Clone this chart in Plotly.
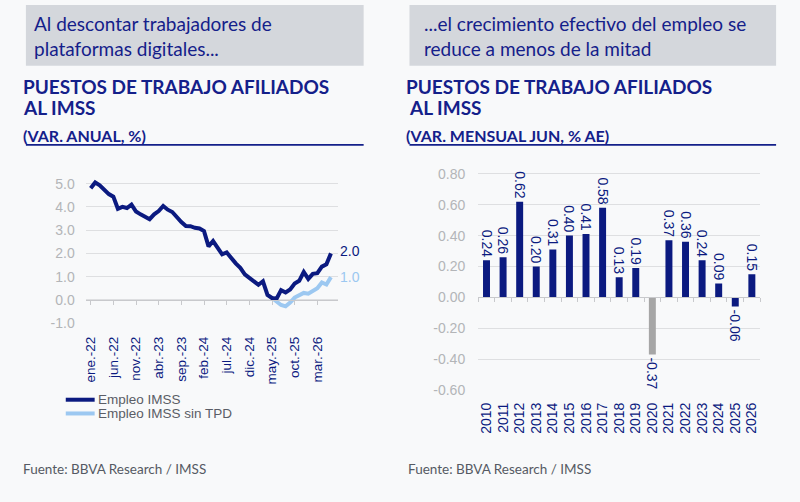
import plotly.graph_objects as go

# ---------------- data ----------------
MESES = ["ene.", "feb.", "mar.", "abr.", "may.", "jun.", "jul.", "ago.", "sep.", "oct.", "nov.", "dic."]
months = [f"{MESES[i % 12]}-{22 + i // 12}" for i in range(54)]  # ene.-22 ... jun.-26

empleo_imss = [4.80, 5.05, 4.93, 4.75, 4.55, 4.44, 3.92, 4.00, 3.95, 4.10,
               3.80, 3.68, 3.55, 3.47, 3.68, 3.82, 4.04, 3.88, 3.78, 3.55,
               3.35, 3.18, 3.17, 3.10, 3.07, 2.96, 2.30, 2.53, 2.22, 1.96,
               2.04, 1.78, 1.57, 1.38, 1.10, 0.95, 0.82, 0.65, 0.80, 0.21,
               0.08, 0.05, 0.42, 0.32, 0.45, 0.70, 0.82, 1.20, 0.90, 1.12,
               1.15, 1.43, 1.53, 2.00]
empleo_sin_tpd = [None] * 40 + [0.08, -0.05, -0.22, -0.28, -0.12, 0.10, 0.22,
                                0.30, 0.27, 0.40, 0.50, 0.75, 0.66, 0.98]

left_tick_idx = list(range(0, 54, 5))
left_tick_text = [months[i] for i in left_tick_idx]

years = [str(y) for y in range(2010, 2027)]
var_jun = [0.24, 0.26, 0.62, 0.20, 0.31, 0.40, 0.41, 0.58, 0.13, 0.19,
           -0.37, 0.37, 0.36, 0.24, 0.09, -0.06, 0.15]

# ---------------- style ----------------
W, H = 800, 502
NAVY = "#0b1a80"
LIGHT = "#9cc8f1"
GREYBAR = "#a6a6a6"
BG = "#f8f9fa"
GRID = "#dedfe1"
YTICK = "#b3b5b8"
TITLE = "#14208a"
BOXC = "#d4d7dc"
TXT_OFF = 6  # annotation inner offset compensation (px)

def px_x(p):
    return p / W

def px_y(p):
    return 1 - p / H

# left plot geometry
L_XR = [-1.1, 54.5]
L_YR = [-1.0, 5.3]
L_XD = [px_x(83), px_x(336)]
L_YD = [px_y(328), px_y(328 - 6.3 * 23.67)]
# right plot geometry
R_XR = [-0.5, 16.5]
R_YR = [-0.6, 0.85]
R_XD = [px_x(477), px_x(760)]
R_YD = [px_y(396), px_y(396 - 1.45 * 157.1)]

def zero_pos(yd, yr):
    return yd[0] + (0 - yr[0]) / (yr[1] - yr[0]) * (yd[1] - yd[0])

fig = go.Figure()

x_idx = list(range(len(months)))
fig.add_trace(go.Scatter(x=x_idx, y=empleo_sin_tpd, mode="lines",
                         line=dict(color=LIGHT, width=4), name="Empleo IMSS sin TPD",
                         xaxis="x", yaxis="y", connectgaps=False, showlegend=False))
fig.add_trace(go.Scatter(x=x_idx, y=empleo_imss, mode="lines",
                         line=dict(color=NAVY, width=4), name="Empleo IMSS",
                         xaxis="x", yaxis="y", showlegend=False))

bar_colors = [GREYBAR if y == "2020" else NAVY for y in years]
fig.add_trace(go.Bar(x=list(range(len(years))), y=var_jun, marker=dict(color=bar_colors, line=dict(width=0)),
                     text=[f"{v:.2f}" for v in var_jun], textposition="outside", textangle=90,
                     textfont=dict(family="Liberation Sans, Arial", size=14, color=NAVY),
                     constraintext="none", cliponaxis=False, width=0.42,
                     xaxis="x2", yaxis="y2", showlegend=False))

# invisible traces for overlay zero-line axes
fig.add_trace(go.Scatter(x=[None], y=[None], xaxis="x3", yaxis="y", showlegend=False, hoverinfo="skip"))
fig.add_trace(go.Scatter(x=[None], y=[None], xaxis="x4", yaxis="y2", showlegend=False, hoverinfo="skip"))

tickfont_y = dict(family="Liberation Sans, Arial", size=14, color=YTICK)
tickfont_x = dict(family="Liberation Sans, Arial", size=13.5, color=NAVY)

fig.update_layout(
    width=W, height=H, margin=dict(l=0, r=0, t=0, b=0),
    paper_bgcolor=BG, plot_bgcolor=BG, showlegend=False,
    xaxis=dict(domain=L_XD, range=L_XR, tickvals=left_tick_idx, ticktext=left_tick_text,
               tickangle=-90, tickfont=tickfont_x, showgrid=False, zeroline=False,
               showline=False, ticks="", ticklabelstandoff=10, fixedrange=True),
    yaxis=dict(domain=L_YD, range=L_YR, tickvals=[-1, 0, 1, 2, 3, 4, 5],
               ticktext=["-1.0", "0.0", "1.0", "2.0", "3.0", "4.0", "5.0"],
               tickfont=tickfont_y, showgrid=True, gridcolor=GRID, gridwidth=1,
               zeroline=False, showline=False, ticks="", ticklabelstandoff=10, anchor="x"),
    xaxis3=dict(overlaying="x", anchor="free", position=zero_pos(L_YD, L_YR), range=L_XR,
                tickvals=left_tick_idx, showticklabels=False, ticks="outside", ticklen=4,
                tickcolor="#c8c9cc", showline=True, linecolor="#c8c9cc", linewidth=1,
                showgrid=False, zeroline=False),
    xaxis2=dict(domain=R_XD, range=R_XR, tickvals=list(range(len(years))), ticktext=years,
                tickangle=-90, tickfont=dict(family="Liberation Sans, Arial", size=14, color=NAVY),
                showgrid=False, zeroline=False, showline=False, ticks="", ticklabelstandoff=9,
                anchor="y2"),
    yaxis2=dict(domain=R_YD, range=R_YR, tickvals=[-0.6, -0.4, -0.2, 0, 0.2, 0.4, 0.6, 0.8],
                ticktext=["-0.60", "-0.40", "-0.20", "0.00", "0.20", "0.40", "0.60", "0.80"],
                tickfont=tickfont_y, showgrid=True, gridcolor=GRID, gridwidth=1,
                zeroline=False, showline=False, ticks="", ticklabelstandoff=12, anchor="x2"),
    xaxis4=dict(overlaying="x2", anchor="free", position=zero_pos(R_YD, R_YR), range=R_XR,
                tickvals=[i - 0.5 for i in range(len(years) + 1)], showticklabels=False,
                ticks="outside", ticklen=4, tickcolor="#c8c9cc", showline=True,
                linecolor="#c8c9cc", linewidth=1, showgrid=False, zeroline=False),
    bargap=0.58,
)

shapes = []
annotations = []

def text_ann(x, y, text, size, color, family="Lato"):
    annotations.append(dict(xref="paper", yref="paper", x=px_x(x - TXT_OFF), y=px_y(y),
                            text=text, showarrow=False, xanchor="left", yanchor="middle",
                            align="left", font=dict(family=family, size=size, color=color)))

def header(x0, x1, lines, tx):
    shapes.append(dict(type="rect", xref="paper", yref="paper", x0=px_x(x0), x1=px_x(x1),
                       y0=px_y(66), y1=px_y(4), fillcolor=BOXC, line=dict(width=0), layer="below"))
    text_ann(tx, 36, "<br>".join(lines), 19, TITLE)

header(23, 362, ["Al descontar trabajadores de", "plataformas digitales..."], 35)
header(408, 776, ["...el crecimiento efectivo del empleo se", "reduce a menos de la mitad"], 427)

def titles(x0, x1, l1, l2, sub):
    text_ann(x0, 87, f"<b>{l1}</b>", 19, TITLE)
    text_ann(x0, 108, f"<b>{l2}</b>", 19, TITLE)
    text_ann(x0, 137, f"<b>{sub}</b>", 16, TITLE)
    shapes.append(dict(type="line", xref="paper", yref="paper", x0=px_x(x0 - 1), x1=px_x(x1),
                       y0=px_y(146.5), y1=px_y(146.5), line=dict(color=TITLE, width=1.6)))

titles(24, 362, "PUESTOS DE TRABAJO AFILIADOS", "AL IMSS", "(VAR. ANUAL, %)")
titles(409, 776, "PUESTOS DE TRABAJO AFILIADOS", "&nbsp;AL IMSS", "(VAR. MENSUAL JUN, % AE)")

# end labels
annotations.append(dict(xref="x", yref="y", x=x_idx[-1], y=empleo_imss[-1], text=f"{empleo_imss[-1]:.1f}",
                        showarrow=False, xanchor="left", yanchor="middle", xshift=7, yshift=2,
                        font=dict(family="Liberation Sans, Arial", size=14, color=NAVY)))
annotations.append(dict(xref="x", yref="y", x=x_idx[-1], y=empleo_sin_tpd[-1], text=f"{empleo_sin_tpd[-1]:.1f}",
                        showarrow=False, xanchor="left", yanchor="middle", xshift=7, yshift=0,
                        font=dict(family="Liberation Sans, Arial", size=14, color=LIGHT)))

# manual legend
for yy, col, name in [(406, NAVY, "Empleo IMSS"), (420, LIGHT, "Empleo IMSS sin TPD")]:
    shapes.append(dict(type="line", xref="paper", yref="paper", x0=px_x(63), x1=px_x(92),
                       y0=px_y(yy), y1=px_y(yy), line=dict(color=col, width=4)))
    annotations.append(dict(xref="paper", yref="paper", x=px_x(93), y=px_y(yy), text=name,
                            showarrow=False, xanchor="left", yanchor="middle",
                            font=dict(family="Liberation Sans, Arial", size=13.5, color="#5a5d66")))

# footers
for fx in (24, 411):
    text_ann(fx, 477, "Fuente: BBVA Research / IMSS", 13.5, "#555a63")

fig.update_layout(shapes=shapes, annotations=annotations)
fig.write_html("out.html")
